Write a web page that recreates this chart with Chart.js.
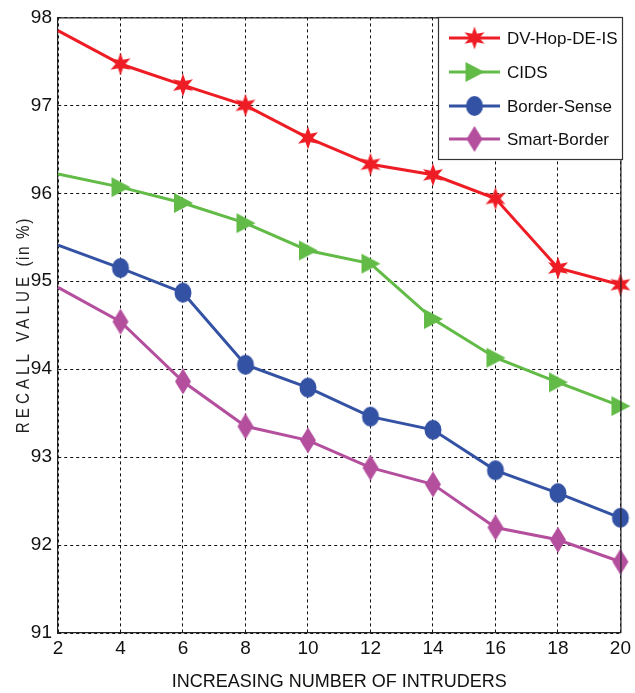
<!DOCTYPE html>
<html>
<head>
<meta charset="utf-8">
<script src="https://cdn.jsdelivr.net/npm/chart.js@4/dist/chart.umd.min.js"></script>
<style>
html,body{margin:0;padding:0;background:#fff;}
#wrap{width:635px;height:693px;position:relative;}
</style>
</head>
<body>
<div id="wrap"><canvas id="c" width="635" height="693"></canvas></div>
<script>
const intruders = [2, 4, 6, 8, 10, 12, 14, 16, 18, 20];
const dvHopDeIs = [97.85, 97.47, 97.23, 97.00, 96.63, 96.33, 96.21, 95.94, 95.15, 94.96];
const cids = [96.22, 96.07, 95.89, 95.66, 95.35, 95.20, 94.57, 94.13, 93.85, 93.58];
const borderSense = [95.41, 95.15, 94.87, 94.05, 93.79, 93.46, 93.31, 92.85, 92.59, 92.31];
const smartBorder = [94.93, 94.54, 93.86, 93.35, 93.19, 92.88, 92.69, 92.20, 92.06, 91.81];
const seriesNames = ['DV-Hop-DE-IS', 'CIDS', 'Border-Sense', 'Smart-Border'];
const yTicks = [91, 92, 93, 94, 95, 96, 97, 98];
const yTitleMain = 'RECALL VALUE';
const yTitleUnit = '(in %)';

const FONT = "'Liberation Sans', Arial, sans-serif";

function mk(w, h, draw) {
  const c = document.createElement('canvas');
  c.width = w; c.height = h;
  const g = c.getContext('2d');
  draw(g, w, h);
  return c;
}
const starImg = mk(24, 24, (g, w, h) => {
  g.fillStyle = '#ee1c24';
  g.beginPath();
  const cx = w/2, cy = h/2, R = 11.5, r = 5;
  for (let i = 0; i < 12; i++) {
    const a = -Math.PI/2 + i * Math.PI/6;
    const rr = i % 2 === 0 ? R : r;
    const x = cx + rr*Math.cos(a), y = cy + rr*Math.sin(a);
    i === 0 ? g.moveTo(x, y) : g.lineTo(x, y);
  }
  g.closePath(); g.fill();
});
const triImg = mk(22, 22, (g, w, h) => {
  g.fillStyle = '#62bb46';
  g.beginPath();
  g.moveTo(2, 1); g.lineTo(21, 11); g.lineTo(2, 21); g.closePath(); g.fill();
});
const circImg = mk(20, 22, (g, w, h) => {
  g.fillStyle = '#3452a4';
  g.beginPath();
  g.ellipse(w/2, h/2, 8.5, 10, 0, 0, Math.PI*2); g.fill();
});
const diaImg = mk(18, 26, (g, w, h) => {
  g.fillStyle = '#b44f9e';
  g.beginPath();
  g.moveTo(w/2, 0); g.lineTo(w-1, h/2); g.lineTo(w/2, h); g.lineTo(1, h/2); g.closePath(); g.fill();
});

const colors = ['#ee1c24', '#62bb46', '#3452a4', '#b44f9e'];
const imgs = [starImg, triImg, circImg, diaImg];
const values = [dvHopDeIs, cids, borderSense, smartBorder];

const datasets = values.map((vals, i) => ({
  label: seriesNames[i],
  data: intruders.map((x, j) => ({x: x, y: vals[j]})),
  borderColor: colors[i],
  backgroundColor: colors[i],
  borderWidth: 3,
  pointStyle: imgs[i],
  pointRadius: intruders.map((x, j) => j === 0 ? 0 : 10),
  tension: 0,
  clip: false
}));

const boxPlugin = {
  id: 'boxLegend',
  afterDraw(chart) {
    const ctx = chart.ctx, a = chart.chartArea;
    ctx.save();
    ctx.strokeStyle = '#222';
    ctx.lineWidth = 1.2;
    ctx.beginPath();
    ctx.moveTo(a.left, a.top + 0.5); ctx.lineTo(a.right, a.top + 0.5);
    ctx.moveTo(a.right + 0.5, a.top); ctx.lineTo(a.right + 0.5, a.bottom);
    ctx.stroke();
    // y title (letter-spaced, condensed)
    ctx.save();
    ctx.translate(24, (a.top + a.bottom) / 2);
    ctx.rotate(-Math.PI / 2);
    ctx.font = '19px ' + FONT;
    ctx.fillStyle = '#222';
    ctx.textBaseline = 'middle';
    ctx.textAlign = 'left';
    ctx.letterSpacing = '5px';
    const w1 = ctx.measureText(yTitleMain).width;
    ctx.letterSpacing = '2px';
    const w2 = ctx.measureText(yTitleUnit).width;
    const gap = 8;
    const total = w1 + gap + w2;
    const sx = 216 / total;
    ctx.scale(sx, 1);
    ctx.letterSpacing = '5px';
    ctx.fillText(yTitleMain, -total / 2, 0);
    ctx.letterSpacing = '2px';
    ctx.fillText(yTitleUnit, -total / 2 + w1 + gap, 0);
    ctx.restore();
    // legend box
    const lx = 438, ly = 17, lw = 184, lh = 142;
    ctx.fillStyle = '#fff';
    ctx.fillRect(lx, ly, lw, lh);
    ctx.strokeStyle = '#333';
    ctx.lineWidth = 1.2;
    ctx.strokeRect(lx + 0.5, ly + 0.5, lw, lh);
    const rows = [38, 72, 106, 139];
    ctx.font = '17px ' + FONT;
    ctx.textBaseline = 'middle';
    ctx.textAlign = 'left';
    chart.data.datasets.forEach((ds, i) => {
      const y = rows[i];
      ctx.strokeStyle = ds.borderColor;
      ctx.lineWidth = 3;
      ctx.beginPath(); ctx.moveTo(449, y); ctx.lineTo(500, y); ctx.stroke();
      const im = ds.pointStyle;
      ctx.drawImage(im, 474.5 - im.width/2, y - im.height/2);
      ctx.fillStyle = '#111';
      ctx.fillText(ds.label, 507, y + 1);
    });
    ctx.restore();
  }
};

new Chart(document.getElementById('c'), {
  type: 'line',
  data: { datasets },
  options: {
    responsive: false,
    animation: false,
    devicePixelRatio: 1,
    layout: { padding: { top: 16, right: 11, left: 0, bottom: 0 } },
    plugins: { legend: { display: false }, tooltip: { enabled: false } },
    scales: {
      x: {
        type: 'linear', min: 2, max: 20,
        afterBuildTicks(s) { s.ticks = intruders.map(v => ({value: v})); },
        afterFit(s) { s.height = 60; },
        grid: { color: '#111', lineWidth: 1, drawTicks: false },
        border: { color: '#222', width: 1.2, dash: [3, 3] },
        ticks: { color: '#111', font: { family: FONT, size: 19 }, padding: 4, maxRotation: 0 },
        title: { display: true, text: 'INCREASING NUMBER OF INTRUDERS', color: '#111', font: { family: FONT, size: 18 }, padding: { top: 0, bottom: 0 } }
      },
      y: {
        min: 91, max: 98,
        afterBuildTicks(s) { s.ticks = yTicks.map(v => ({value: v})); },
        afterFit(s) { s.width = 58; },
        grid: { color: '#111', lineWidth: 1, drawTicks: false },
        border: { color: '#222', width: 1.2, dash: [3, 3] },
        ticks: { color: '#111', font: { family: FONT, size: 19 }, padding: 6 },
        title: { display: false }
      }
    }
  },
  plugins: [boxPlugin]
});
</script>
</body>
</html>
